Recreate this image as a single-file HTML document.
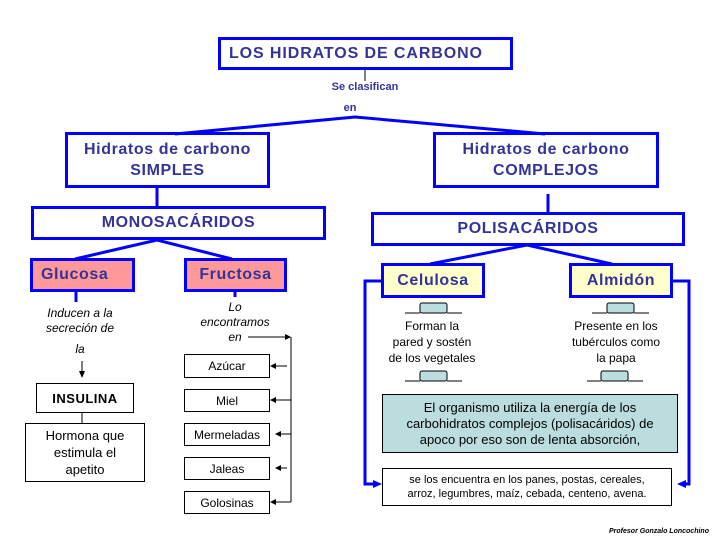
<!DOCTYPE html>
<html><head><meta charset="utf-8"><style>
*{margin:0;padding:0}
body{width:720px;height:540px;background:#fff;position:relative;overflow:hidden;font-family:"Liberation Sans",sans-serif}
.b{position:absolute;box-sizing:border-box;display:flex;align-items:center;justify-content:center;text-align:center}
.blue{border:3px solid #0000ff;color:#333399;font-weight:bold;letter-spacing:0.6px}
.thin{border:1px solid #000;color:#000;font-size:12px}
.t{position:absolute;text-align:center;font-size:11px;color:#000;line-height:15px}
svg{position:absolute;left:0;top:0}
</style></head><body>
<svg width="720" height="540">
<g stroke="#0000ff" stroke-width="3" fill="none">
<polyline points="175,134 355,117 545,134"/>
<line x1="157" y1="187" x2="157" y2="208"/>
<line x1="548" y1="194" x2="548" y2="214"/>
<polyline points="75,259 157,240 232,259"/>
<polyline points="430,264 527,245 612,264"/>
<line x1="76" y1="292" x2="76" y2="302"/>
<line x1="235" y1="292" x2="235" y2="297"/>
<polyline points="381,281 365,281 365,484 374,484"/>
<polyline points="672,281 689,281 689,484 680,484"/>
</g>
<polygon points="382,484 373,480 373,488" fill="#0000ff"/>
<polygon points="677,484 686,480 686,488" fill="#0000ff"/>
<g stroke="#000" stroke-width="1" fill="none">
<line x1="365" y1="69" x2="365" y2="81"/>
<line x1="82" y1="361" x2="82" y2="375"/>
<line x1="82" y1="412" x2="82" y2="423"/>
<line x1="248" y1="337" x2="286" y2="337"/>
<line x1="291" y1="337" x2="291" y2="502"/>
<line x1="273" y1="366" x2="287" y2="366"/>
<line x1="273" y1="400" x2="291" y2="400"/>
<line x1="278" y1="434" x2="291" y2="434"/>
<line x1="278" y1="468" x2="287" y2="468"/>
<line x1="273" y1="502" x2="291" y2="502"/>
</g>
<g fill="#000">
<polygon points="82,378 79,371 85,371"/>
<polygon points="291,337 285,334 285,340"/>
<polygon points="270,366 276,363 276,369"/><polygon points="270,400 276,397 276,403"/>
<polygon points="275,434 281,431 281,437"/><polygon points="275,468 281,465 281,471"/>
<polygon points="270,502 276,499 276,505"/>
</g>
<g stroke="#000" stroke-width="1" fill="#bbdddd">
<path d="M405,313 H420 M447,313 H462"/><rect x="420" y="303" width="27" height="10" rx="2"/>
<path d="M592,313 H607 M634,313 H649"/><rect x="607" y="303" width="27" height="10" rx="2"/>
<path d="M405,381 H420 M447,381 H462"/><rect x="420" y="371" width="27" height="10" rx="2"/>
<path d="M587,381 H601 M628,381 H643"/><rect x="601" y="371" width="27" height="10" rx="2"/>
</g>
</svg>
<div class="b blue" style="left:218px;top:37px;width:295px;height:33px;font-size:16px;justify-content:flex-start;padding-left:8px;letter-spacing:0.9px">LOS HIDRATOS DE CARBONO</div>
<div class="t" style="left:300px;top:80px;width:130px;color:#333399;font-weight:bold">Se clasifican</div>
<div class="t" style="left:300px;top:101px;width:100px;color:#333399;font-weight:bold">en</div>
<div class="b blue" style="left:65px;top:132px;width:205px;height:56px;font-size:16px;line-height:21px">Hidratos de carbono<br>SIMPLES</div>
<div class="b blue" style="left:433px;top:132px;width:226px;height:56px;font-size:16px;line-height:21px">Hidratos de carbono<br>COMPLEJOS</div>
<div class="b blue" style="left:31px;top:206px;width:295px;height:34px;font-size:16px">MONOSACÁRIDOS</div>
<div class="b blue" style="left:371px;top:212px;width:314px;height:34px;font-size:16px">POLISACÁRIDOS</div>
<div class="b blue" style="left:30px;top:258px;width:105px;height:34px;font-size:16px;background:#ff9999;justify-content:flex-start;padding-left:8px">Glucosa</div>
<div class="b blue" style="left:184px;top:258px;width:103px;height:34px;font-size:16px;background:#ff9999">Fructosa</div>
<div class="b blue" style="left:381px;top:263px;width:104px;height:35px;font-size:16px;background:#ffffcc">Celulosa</div>
<div class="b blue" style="left:569px;top:263px;width:104px;height:35px;font-size:16px;background:#ffffcc">Almidón</div>
<div class="t" style="left:25px;top:306px;width:110px;font-style:italic;font-size:12px">Inducen a la<br>secreción de</div>
<div class="t" style="left:60px;top:342px;width:40px;font-style:italic;font-size:12px">la</div>
<div class="b thin" style="left:36px;top:383px;width:98px;height:30px;font-weight:bold;font-size:13px;letter-spacing:0.5px">INSULINA</div>
<div class="b thin" style="left:25px;top:423px;width:120px;height:59px;font-size:13px;line-height:17px">Hormona que<br>estimula el<br>apetito</div>
<div class="t" style="left:180px;top:300px;width:110px;font-style:italic;font-size:12px">Lo<br>encontramos<br>en</div>
<div class="b thin" style="left:184px;top:354px;width:86px;height:24px">Azúcar</div>
<div class="b thin" style="left:184px;top:389px;width:86px;height:23px">Miel</div>
<div class="b thin" style="left:184px;top:423px;width:86px;height:23px">Mermeladas</div>
<div class="b thin" style="left:184px;top:457px;width:86px;height:23px">Jaleas</div>
<div class="b thin" style="left:184px;top:491px;width:86px;height:23px">Golosinas</div>
<div class="t" style="left:372px;top:318px;width:120px;line-height:16px;font-size:12px">Forman la<br>pared y sostén<br>de los vegetales</div>
<div class="t" style="left:556px;top:318px;width:120px;line-height:16px;font-size:12px">Presente en los<br>tubérculos como<br>la papa</div>
<div class="b thin" style="left:382px;top:394px;width:296px;height:59px;background:#bbdddd;font-size:13px;line-height:16px">El organismo utiliza la energía de los<br>carbohidratos complejos (polisacáridos) de<br>apoco por eso son de lenta absorción,</div>
<div class="b thin" style="left:382px;top:468px;width:290px;height:38px;font-size:11px;line-height:14px">se los encuentra en los panes, postas, cereales,<br>arroz, legumbres, maíz, cebada, centeno, avena.</div>
<div class="t" style="left:600px;top:524px;width:118px;font-size:7px;font-weight:bold;font-style:italic">Profesor Gonzalo Loncochino</div>
</body></html>
